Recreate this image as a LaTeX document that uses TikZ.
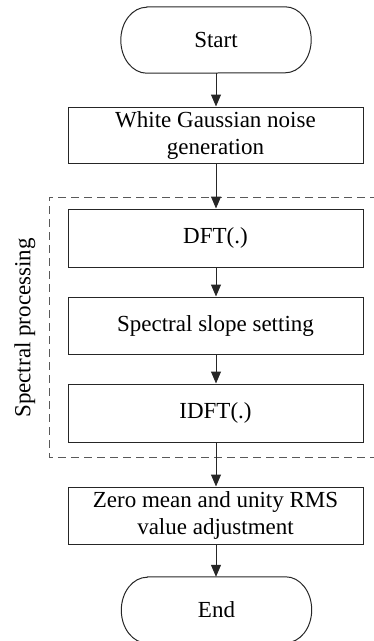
\documentclass[tikz,border=0pt]{standalone}
\usepackage{fontspec}
\setmainfont{Liberation Serif}
\usetikzlibrary{arrows.meta}
\begin{document}
\begin{tikzpicture}[x=1pt,y=-1pt,
  txt/.style={font=\fontsize{23}{27}\selectfont, align=center, inner sep=0pt},
  proc/.style={txt, draw=black!85, line width=1pt, minimum width=295pt},
  term/.style={txt, minimum width=190pt, minimum height=66pt},
  flow/.style={draw=black!85, line width=1pt, -{Triangle[length=12pt,width=10pt]}},
  grp/.style={draw=black!65, line width=1pt, dash pattern=on 8pt off 5pt}]
\useasboundingbox (0,0) rectangle (374,641);
\begin{scope}
\clip (0,0) rectangle (374,641);
\draw[grp] (378,197) -- (49,197) -- (49,457) -- (378,457);
\node[term] (start) at (216,40) {Start};
\node[proc, minimum height=56pt] (wgn) at (215.5,135) {White Gaussian noise\\generation};
\node[proc, minimum height=58pt] (dft) at (215.5,238) {DFT(.)};
\node[proc, minimum height=57pt] (sss) at (215.5,325.5) {Spectral slope setting};
\node[proc, minimum height=58pt] (idft) at (215.5,413) {IDFT(.)};
\node[proc, minimum height=57pt] (zm) at (215.5,515.5) {Zero mean and unity RMS\\value adjustment};
\node[term] (end) at (216.5,610) {End};
\foreach \t in {start,end}{
  \draw[draw=black!85, line width=1pt]
    ([xshift=26pt]\t.north west) -- ([xshift=-26pt]\t.north east)
    arc[start angle=90, end angle=-90, x radius=26pt, y radius=33pt]
    -- ([xshift=26pt]\t.south west)
    arc[start angle=270, end angle=90, x radius=26pt, y radius=33pt] -- cycle;
}
\node[txt, rotate=90] (lbl) at (25,328) {Spectral processing};
\draw[flow] (start.south -| 216,0) -- (wgn.north -| 216,0);
\draw[flow] (wgn.south -| 216,0) -- (dft.north -| 216,0);
\draw[flow] (dft.south -| 216,0) -- (sss.north -| 216,0);
\draw[flow] (sss.south -| 216,0) -- (idft.north -| 216,0);
\draw[flow] (idft.south -| 216,0) -- (zm.north -| 216,0);
\draw[flow] (zm.south -| 216,0) -- (end.north -| 216,0);
\end{scope}
\end{tikzpicture}
\end{document}
